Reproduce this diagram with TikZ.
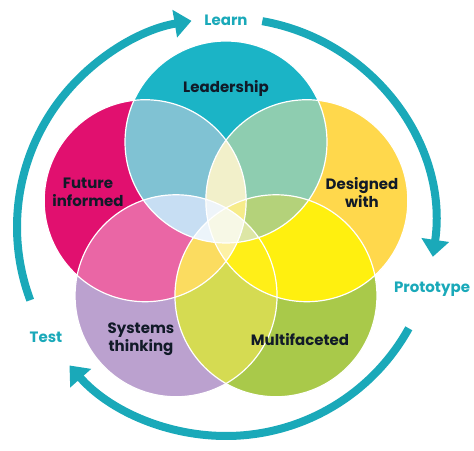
\documentclass[tikz,border=0pt]{standalone}
\usepackage{fontspec}
\setmainfont{Poppins}
\usetikzlibrary{arrows.meta}

\definecolor{ringteal}{HTML}{1AA9B9}
\definecolor{textdark}{HTML}{111A28}
% one circle
\definecolor{vT}{HTML}{1BB4C6}
\definecolor{vO}{HTML}{FFD84C}
\definecolor{vG}{HTML}{A9C94A}
\definecolor{vL}{HTML}{BBA1CF}
\definecolor{vP}{HTML}{E1106F}
% two circles
\definecolor{vTO}{HTML}{8ECDB0}
\definecolor{vOG}{HTML}{FFF00F}
\definecolor{vGL}{HTML}{D5DB52}
\definecolor{vLP}{HTML}{EA66A5}
\definecolor{vPT}{HTML}{80C2D3}
\definecolor{vTG}{HTML}{B0D27E}
\definecolor{vTL}{HTML}{C6DEF3}
\definecolor{vOL}{HTML}{FFEE20}
\definecolor{vOP}{HTML}{F2F0CA}
\definecolor{vGP}{HTML}{FBDC60}
% three circles
\definecolor{vPTO}{HTML}{F2F0CA}
\definecolor{vTOG}{HTML}{B4D27A}
\definecolor{vOGL}{HTML}{FFEF18}
\definecolor{vGLP}{HTML}{FBDC60}
\definecolor{vLPT}{HTML}{C7DEF3}
\definecolor{vTOL}{HTML}{DDE8B0}
\definecolor{vTGL}{HTML}{DDE6A5}
\definecolor{vTGP}{HTML}{F4F1C8}
\definecolor{vOGP}{HTML}{FDEE80}
\definecolor{vOLP}{HTML}{FDEFA0}
% four and five
\definecolor{vTPOL}{HTML}{EEF4F9}
\definecolor{vTPOG}{HTML}{F7EC8A}
\definecolor{vTOGL}{HTML}{DDE6A5}
\definecolor{vTPLG}{HTML}{ECF4FA}
\definecolor{vPOGL}{HTML}{FDF1A5}
\definecolor{vAll}{HTML}{F7F8E6}

\newcommand{\vrad}{101}
\newcommand{\ringrad}{209}
\newcommand{\vennpart}[2]{%
  \begin{scope}
    \foreach \k in {#2}{\clip (\k) circle (\vrad);}
    \fill[v#1] (0,0) rectangle (474,450);
  \end{scope}}

\begin{document}
\begin{tikzpicture}[x=1pt,y=1pt,
  lbl/.style={font=\fontsize{15}{18}\selectfont\bfseries, text=textdark, align=center},
  cyc/.style={font=\fontsize{15}{18}\selectfont\bfseries, text=ringteal},
  ring/.style={draw=ringteal, line width=8pt, -{Triangle[width=27pt,length=17pt]}}]
\useasboundingbox (0,0) rectangle (474,450);

\coordinate (c) at (226,223);
\path (c) ++(90:85) coordinate (T)
      (c) ++(18:85) coordinate (O)
      (c) ++(-54:85) coordinate (G)
      (c) ++(234:85) coordinate (L)
      (c) ++(162:85) coordinate (P);

% circles, then the overlaps
\foreach \k in {T,O,G,L,P} \fill[v\k] (\k) circle (\vrad);
\vennpart{TO}{T,O}
\vennpart{OG}{O,G}
\vennpart{GL}{G,L}
\vennpart{LP}{L,P}
\vennpart{PT}{P,T}
\vennpart{TG}{T,G}
\vennpart{TL}{T,L}
\vennpart{OL}{O,L}
\vennpart{OP}{O,P}
\vennpart{GP}{G,P}
\vennpart{PTO}{P,T,O}
\vennpart{TOG}{T,O,G}
\vennpart{OGL}{O,G,L}
\vennpart{GLP}{G,L,P}
\vennpart{LPT}{L,P,T}
\vennpart{TOL}{T,O,L}
\vennpart{TGL}{T,G,L}
\vennpart{TGP}{T,G,P}
\vennpart{OGP}{O,G,P}
\vennpart{OLP}{O,L,P}
\vennpart{TPOL}{T,P,O,L}
\vennpart{TPOG}{T,P,O,G}
\vennpart{TOGL}{T,O,G,L}
\vennpart{TPLG}{T,P,L,G}
\vennpart{POGL}{P,O,G,L}
\vennpart{All}{T,O,G,L,P}
\foreach \k in {T,O,G,L,P} \draw[white, line width=1.2pt] (\k) circle (\vrad);

% cycle round the outside
\draw[ring] ([shift={(200.5:\ringrad)}]c) arc[start angle=200.5, end angle=99.5, radius=\ringrad];
\draw[ring] ([shift={(80:\ringrad)}]c) arc[start angle=80, end angle=-8.2, radius=\ringrad];
\draw[ring] ([shift={(-29:\ringrad)}]c) arc[start angle=-29, end angle=-138.5, radius=\ringrad];

\node[cyc] (learn) at (226,429.5) {Learn};
\node[cyc] (proto) at (432,161) {Prototype};
\node[cyc] (test) at (46,112.5) {Test};

\node[lbl] (lead) at (226,362) {Leadership};
\node[lbl] (future) at (88,258) {Future\\informed};
\node[lbl] (design) at (362,258) {Designed\\with};
\node[lbl] (systems) at (141,111) {Systems\\thinking};
\node[lbl] (multi) at (300,110) {Multifaceted};
\end{tikzpicture}
\end{document}
